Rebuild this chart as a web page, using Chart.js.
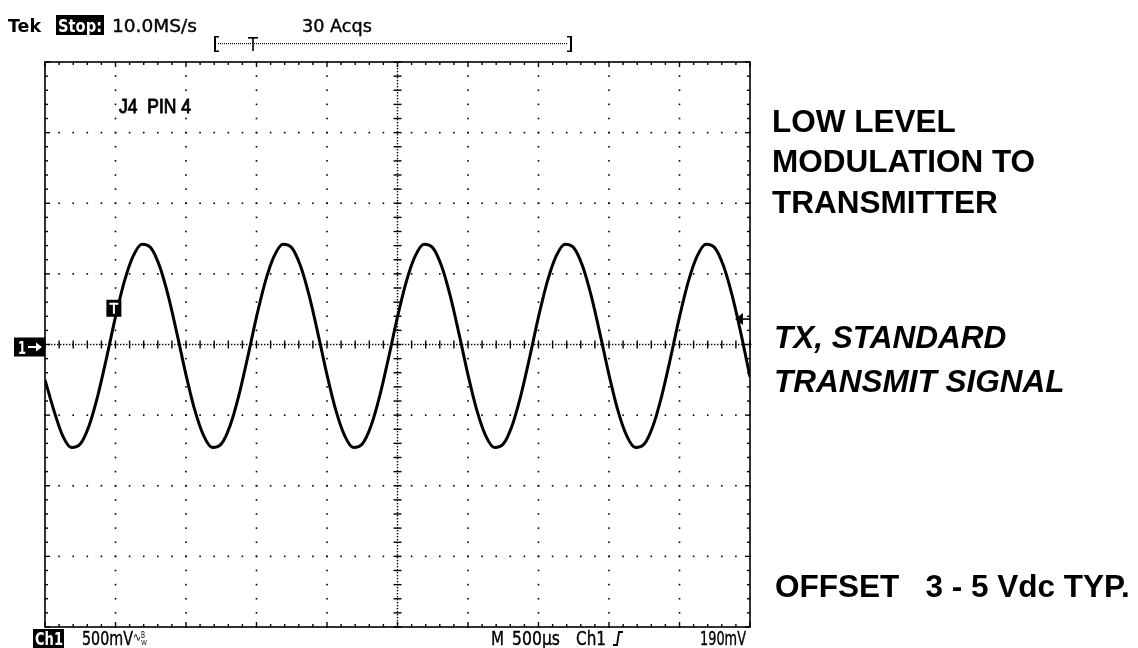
<!DOCTYPE html>
<html>
<head>
<meta charset="utf-8">
<script src="https://cdn.jsdelivr.net/npm/chart.js@4.4.1/dist/chart.umd.min.js"></script>
<style>
html,body{margin:0;padding:0;background:#fff;}
#wrap{position:relative;width:1138px;height:648px;}
</style>
</head>
<body>
<div id="wrap"><canvas id="c" width="1138" height="648"></canvas></div>
<script>
const timeDiv = [0,0.125,0.25,0.375,0.5,0.625,0.75,0.875,1,1.125,1.25,1.375,1.5,1.625,1.75,1.875,
 2,2.125,2.25,2.375,2.5,2.625,2.75,2.875,3,3.125,3.25,3.375,3.5,3.625,3.75,3.875,
 4,4.125,4.25,4.375,4.5,4.625,4.75,4.875,5,5.125,5.25,5.375,5.5,5.625,5.75,5.875,
 6,6.125,6.25,6.375,6.5,6.625,6.75,6.875,7,7.125,7.25,7.375,7.5,7.625,7.75,7.875,
 8,8.125,8.25,8.375,8.5,8.625,8.75,8.875,9,9.125,9.25,9.375,9.5,9.625,9.75,9.875,10];
const traceDiv = [-0.50,-0.93,-1.29,-1.46,-1.41,-1.15,-0.72,-0.18,0.39,0.89,1.25,1.42,1.37,1.11,0.68,0.14,
 -0.43,-0.93,-1.29,-1.46,-1.41,-1.15,-0.72,-0.18,0.39,0.89,1.25,1.42,1.37,1.11,0.68,0.14,
 -0.43,-0.93,-1.29,-1.46,-1.41,-1.15,-0.72,-0.18,0.39,0.89,1.25,1.42,1.37,1.11,0.68,0.14,
 -0.43,-0.93,-1.29,-1.46,-1.41,-1.15,-0.72,-0.18,0.39,0.89,1.25,1.42,1.37,1.11,0.68,0.14,
 -0.43,-0.93,-1.29,-1.46,-1.41,-1.15,-0.72,-0.18,0.39,0.89,1.25,1.42,1.37,1.11,0.68,0.14,-0.46];
const xDivs = [0,1,2,3,4,5,6,7,8,9,10];
const yDivs = [-4,-3,-2,-1,0,1,2,3,4];
const triggerLevelDiv = 0.36;
const triggerPosDiv = 0.97;
const headerTexts = ['Tek','Stop:','10.0MS/s','30 Acqs'];
const footerTexts = ['Ch1','500mV','M','500\u00b5s','Ch1','190mV'];
const noteLines1 = ['LOW LEVEL','MODULATION TO','TRANSMITTER'];
const noteLines2 = ['TX, STANDARD','TRANSMIT SIGNAL'];
const noteLine3 = 'OFFSET   3 - 5 Vdc TYP.';
const probeLabel = 'J4  PIN 4';

const points = timeDiv.map((t,i)=>({x:t,y:traceDiv[i]}));

function fitText(ctx, text, x, y, w, font, color, stroke){
  ctx.save();
  ctx.font = font;
  ctx.fillStyle = color || '#000';
  ctx.textBaseline = 'alphabetic';
  ctx.textAlign = 'left';
  const m = ctx.measureText(text).width;
  const s = w ? w / m : 1;
  ctx.translate(x, y);
  ctx.scale(s, 1);
  ctx.fillText(text, 0, 0);
  if (stroke){ ctx.strokeStyle = color || '#000'; ctx.lineWidth = stroke; ctx.strokeText(text, 0, 0); }
  ctx.restore();
}

const graticule = {
  id:'graticule',
  beforeDatasetsDraw(chart){
    const {ctx, chartArea:a, scales:{x,y}} = chart;
    ctx.save();
    ctx.fillStyle = '#000';
    const d = 1.6;
    xDivs.forEach(v=>{
      if (v===0||v===10||v===5) return;
      const px = x.getPixelForValue(v);
      for (let k=-20;k<=20;k++){ const py=y.getPixelForValue(k*0.2); ctx.fillRect(px-d/2,py-d/2,d,d); }
    });
    yDivs.forEach(v=>{
      if (v===-4||v===4||v===0) return;
      const py = y.getPixelForValue(v);
      for (let k=0;k<=50;k++){ const px=x.getPixelForValue(k*0.2); ctx.fillRect(px-d/2,py-d/2,d,d); }
    });
    const cx = x.getPixelForValue(5), cy = y.getPixelForValue(0);
    for (let py=a.top; py<=a.bottom; py+=3) ctx.fillRect(cx-0.7,py,1.4,1.4);
    for (let px=a.left; px<=a.right; px+=3) ctx.fillRect(px,cy-0.7,1.4,1.4);
    for (let k=-20;k<=20;k++){ const py=y.getPixelForValue(k*0.2); ctx.fillRect(cx-4,py-0.7,8,1.4); }
    for (let k=0;k<=50;k++){ const px=x.getPixelForValue(k*0.2); ctx.fillRect(px-0.7,cy-4,1.4,8); }
    for (let k=0;k<=50;k++){
      const px=x.getPixelForValue(k*0.2);
      const L = (k%5===0)?5:3;
      ctx.fillRect(px-0.7,a.top,1.4,L);
      ctx.fillRect(px-0.7,a.bottom-L,1.4,L);
    }
    for (let k=-20;k<=20;k++){
      const py=y.getPixelForValue(k*0.2);
      const L = (k%5===0)?5:3;
      ctx.fillRect(a.left,py-0.7,L,1.4);
      ctx.fillRect(a.right-L,py-0.7,L,1.4);
    }
    ctx.restore();
  },
  afterDraw(chart){
    const {ctx, chartArea:a, scales:{x,y}} = chart;
    ctx.save();
    ctx.strokeStyle='#000'; ctx.lineWidth=1.6;
    ctx.strokeRect(a.left, a.top, a.right-a.left, a.bottom-a.top);

    const scopeFont = '18px "DejaVu Sans"';
    const scopeBold = 'bold 18px "DejaVu Sans"';
    fitText(ctx, headerTexts[0], 8, 32, 33, scopeBold);
    ctx.fillStyle='#000'; ctx.fillRect(56,15,48,20);
    fitText(ctx, headerTexts[1], 58, 32, 44, scopeBold, '#fff');
    fitText(ctx, headerTexts[2], 112, 32, 85, scopeFont, '#000', 0.4);
    fitText(ctx, headerTexts[3], 302, 32, 70, scopeFont, '#000', 0.4);
    ctx.fillStyle='#000';
    ctx.fillRect(214,36,2,16); ctx.fillRect(214,36,5,1.5); ctx.fillRect(214,50.5,5,1.5);
    ctx.fillRect(570,36,2,16); ctx.fillRect(567,36,5,1.5); ctx.fillRect(567,50.5,5,1.5);
    for (let px=218; px<568; px+=2) ctx.fillRect(px,43,1,1.2);
    ctx.fillRect(248,37,10,1.6); ctx.fillRect(252.2,37,1.6,14);

    ctx.fillRect(33,629,31,19);
    fitText(ctx, footerTexts[0], 35, 645, 28, scopeBold, '#fff');
    fitText(ctx, footerTexts[1], 82, 645, 51, '19px "DejaVu Sans"', '#000', 0.4);
    fitText(ctx, '\u223f', 133, 641, 8, '12px "DejaVu Sans"');
    fitText(ctx, 'B', 141, 638, 4, '8px "DejaVu Sans"');
    fitText(ctx, 'W', 141, 645, 6, '7px "DejaVu Sans"');
    fitText(ctx, footerTexts[2], 491, 645, 13, '19px "DejaVu Sans"', '#000', 0.4);
    fitText(ctx, footerTexts[3], 512, 645, 48, '19px "DejaVu Sans"', '#000', 0.4);
    fitText(ctx, footerTexts[4], 576, 645, 30, '19px "DejaVu Sans"', '#000', 0.4);
    ctx.beginPath(); ctx.lineWidth=1.8; ctx.strokeStyle='#000';
    ctx.moveTo(613,645); ctx.lineTo(617,645); ctx.lineTo(619,632); ctx.lineTo(623,632); ctx.stroke();
    fitText(ctx, footerTexts[5], 700, 645, 46, '19px "DejaVu Sans"', '#000', 0.4);

    fitText(ctx, probeLabel, 119, 113, 72, '20px "Liberation Sans"', '#000', 0.9);

    const gy = y.getPixelForValue(0);
    ctx.fillStyle='#000'; ctx.fillRect(14, gy-7, 31, 19);
    fitText(ctx, '1', 18, gy+9, 8, scopeBold, '#fff');
    ctx.fillStyle='#fff'; ctx.fillRect(28, gy+1.5, 9, 2);
    ctx.beginPath(); ctx.moveTo(42,gy+2.5); ctx.lineTo(36,gy-2); ctx.lineTo(36,gy+7); ctx.closePath(); ctx.fill();

    const tx = x.getPixelForValue(triggerPosDiv), ty = y.getPixelForValue(0.52);
    ctx.fillStyle='#000'; ctx.fillRect(tx-7, ty-8, 15, 17);
    ctx.fillStyle='#fff'; ctx.fillRect(tx-4, ty-5, 9, 2); ctx.fillRect(tx-0.5, ty-5, 2, 11);

    const ly = y.getPixelForValue(triggerLevelDiv);
    ctx.fillStyle='#000';
    ctx.beginPath(); ctx.moveTo(a.right-15, ly); ctx.lineTo(a.right-7, ly-6); ctx.lineTo(a.right-7, ly+6); ctx.closePath(); ctx.fill();
    ctx.fillRect(a.right-8, ly-0.8, 8, 1.6);

    const nb = 'bold 31.5px "Liberation Sans"';
    const ni = 'italic bold 31.5px "Liberation Sans"';
    fitText(ctx, noteLines1[0], 772, 132, 0, nb);
    fitText(ctx, noteLines1[1], 772, 172, 0, nb);
    fitText(ctx, noteLines1[2], 772, 213, 0, nb);
    fitText(ctx, noteLines2[0], 774, 348, 0, ni);
    fitText(ctx, noteLines2[1], 774, 392, 0, ni);
    fitText(ctx, noteLine3, 775, 597, 0, nb);
    ctx.restore();
  }
};

new Chart(document.getElementById('c'), {
  type:'line',
  data:{datasets:[{data:points, borderColor:'#000', borderWidth:3, pointRadius:0,
    cubicInterpolationMode:'monotone', fill:false}]},
  options:{
    responsive:false, devicePixelRatio:1, animation:false,
    layout:{padding:{left:45,right:388,top:62,bottom:21}},
    plugins:{legend:{display:false}, tooltip:{enabled:false}},
    scales:{
      x:{type:'linear', min:0, max:10, display:false},
      y:{type:'linear', min:-4, max:4, display:false}
    }
  },
  plugins:[graticule]
});
</script>
</body>
</html>
